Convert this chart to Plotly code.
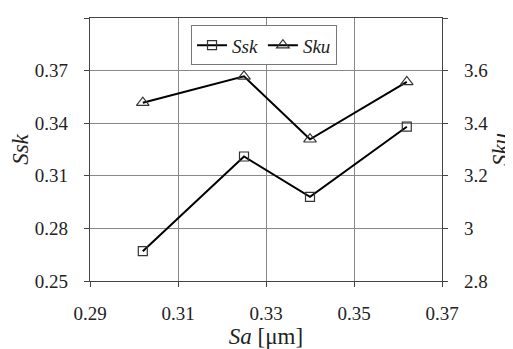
import plotly.graph_objects as go

sa = [0.302, 0.325, 0.340, 0.362]
ssk = [0.267, 0.321, 0.298, 0.338]
sku = [3.478, 3.578, 3.339, 3.557]

x_ticks = [0.29, 0.31, 0.33, 0.35, 0.37]
x_labels = ["0.29", "0.31", "0.33", "0.35", "0.37"]
x_minor = [0.295, 0.30, 0.305, 0.315, 0.32, 0.325, 0.335, 0.34, 0.345, 0.355, 0.36, 0.365]
y1_ticks = [0.25, 0.28, 0.31, 0.34, 0.37, 0.40]
y1_labels = ["0.25", "0.28", "0.31", "0.34", "0.37", "0.4"]
y1_minor = [round(0.25 + 0.005 * i, 3) for i in range(1, 30) if i % 6 != 0]
y2_ticks = [2.8, 3.0, 3.2, 3.4, 3.6, 3.8]
y2_labels = ["2.8", "3", "3.2", "3.4", "3.6", "3.8"]
y2_minor = [round(2.8 + 0.05 * i, 2) for i in range(1, 20) if i % 4 != 0]

FONT = "Liberation Serif"

fig = go.Figure()
fig.add_trace(go.Scatter(
    x=sa, y=ssk, name="<i>Ssk</i>", mode="lines+markers",
    line=dict(color="black", width=2),
    marker=dict(symbol="square-open", size=9, color="#333", line=dict(width=1.2)),
))
fig.add_trace(go.Scatter(
    x=sa, y=sku, name="<i>Sku</i>", mode="lines+markers", yaxis="y2",
    line=dict(color="black", width=2),
    marker=dict(symbol="triangle-up-open", size=11, color="#333", line=dict(width=1.2)),
))

base = dict(showline=True, linecolor="#444", linewidth=1.2, zeroline=False, automargin=False,
            ticks="outside", ticklen=5, tickcolor="#444", tickwidth=1.2)
minor_ax = dict(showline=False, zeroline=False, showgrid=False, showticklabels=False, automargin=False,
                ticks="inside", ticklen=5, tickcolor="#444", tickwidth=1.2, tickmode="array")

# the page body adds a small offset, so the figure is sized to fit the 513x349 window
fig.update_layout(
    width=505, height=341,
    margin=dict(l=82, r=71, t=10, b=68),
    template="none",
    paper_bgcolor="white", plot_bgcolor="white",
    font=dict(family=FONT, size=19, color="#222"),
    showlegend=True,
    legend=dict(
        x=0.287, y=0.972, xanchor="left", yanchor="top",
        orientation="h", bgcolor="white", bordercolor="#777", borderwidth=1,
        itemwidth=30, tracegroupgap=0,
    ),
    xaxis=dict(**base, range=[0.29, 0.37], tickmode="array", tickvals=x_ticks,
               ticktext=x_labels, mirror=True,
               showgrid=True, gridcolor="#888", gridwidth=1, ticklabelstandoff=10,
               title=dict(text="<i>Sa</i> [μm]", standoff=4)),
    yaxis=dict(**base, range=[0.25, 0.40], tickmode="array", tickvals=y1_ticks,
               ticktext=y1_labels, mirror=True,
               showgrid=True, gridcolor="#888", gridwidth=1, ticklabelstandoff=12,
               title=dict(text="<i>Ssk</i>", standoff=6)),
    yaxis2=dict(**base, overlaying="y", side="right", range=[2.8, 3.8], tickmode="array",
                tickvals=y2_ticks, ticktext=y2_labels,
                showgrid=False, ticklabelstandoff=12,
                title=dict(text="<i>Sku</i>", standoff=0)),
    xaxis2=dict(**minor_ax, overlaying="x", anchor="y", side="bottom", range=[0.29, 0.37], tickvals=x_minor),
    yaxis3=dict(**minor_ax, overlaying="y", anchor="x", side="left", range=[0.25, 0.40], tickvals=y1_minor),
    yaxis4=dict(**minor_ax, overlaying="y", anchor="x", side="right", range=[2.8, 3.8], tickvals=y2_minor),
)

fig.write_html("out.html")
